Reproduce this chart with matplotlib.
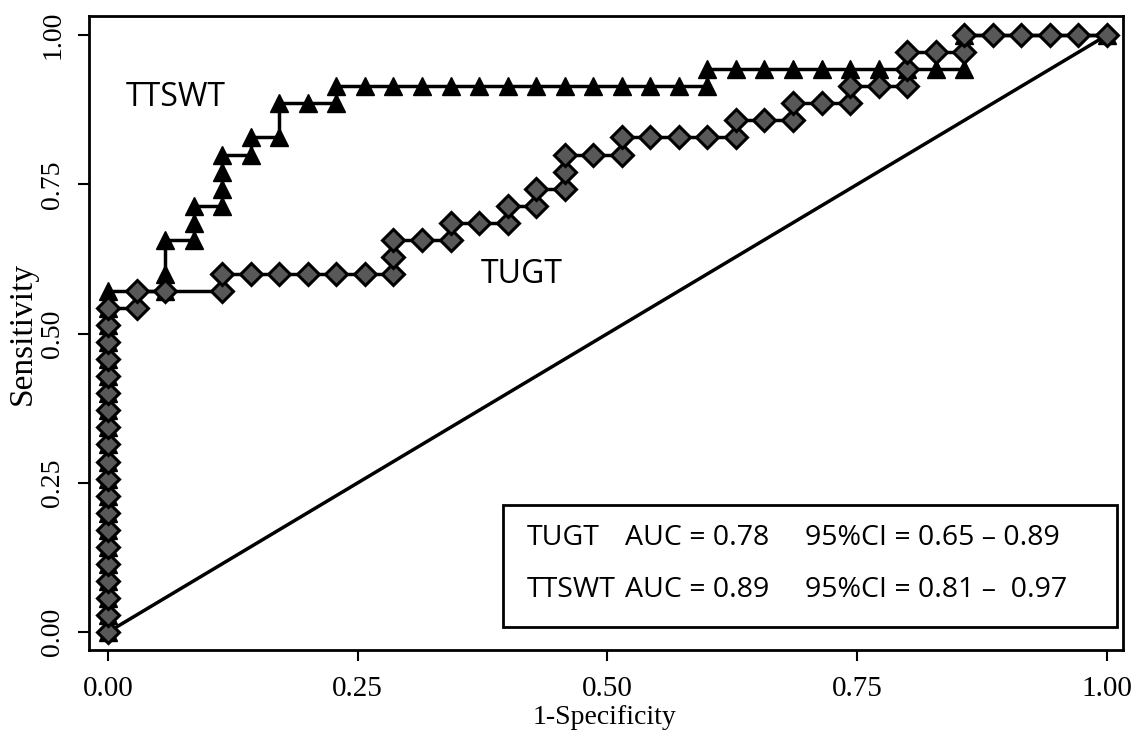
import matplotlib.pyplot as plt
from matplotlib.patches import Rectangle

# 35 cases without and 35 with the outcome: the ROC steps are read as counts of cases
n_neg = 35
n_pos = 35

# TTSWT curve (triangles): false-positive count, true-positive count
ttswt_fp = [0, 0, 0, 0, 0, 0, 0, 0, 0, 0, 0, 0, 0, 0, 0, 0, 0, 0, 0, 0, 0,
            2, 2, 2, 3, 3, 3, 4, 4, 4, 4, 5, 5, 6, 6, 7, 8, 8, 9,
            10, 11, 12, 13, 14, 15, 16, 17, 18, 19, 20, 21, 21,
            22, 23, 24, 25, 26, 27, 28, 29, 30, 30, 35]
ttswt_tp = [0, 1, 2, 3, 4, 5, 6, 7, 8, 9, 10, 11, 12, 13, 14, 15, 16, 17, 18, 19, 20,
            20, 21, 23, 23, 24, 25, 25, 26, 27, 28, 28, 29, 29, 31, 31, 31, 32, 32,
            32, 32, 32, 32, 32, 32, 32, 32, 32, 32, 32, 32, 33,
            33, 33, 33, 33, 33, 33, 33, 33, 33, 35, 35]

# TUGT curve (diamonds)
tugt_fp = [0, 0, 0, 0, 0, 0, 0, 0, 0, 0, 0, 0, 0, 0, 0, 0, 0, 0, 0, 0,
           1, 1, 2, 4, 4, 5, 6, 7, 8, 9, 10, 10, 10, 11, 12, 12, 13, 14, 14,
           15, 15, 16, 16, 16, 17, 18, 18, 19, 20, 21, 22, 22, 23, 24, 24,
           25, 26, 26, 27, 28, 28, 28, 29, 30, 30, 31, 32, 33, 34, 35]
tugt_tp = [0, 1, 2, 3, 4, 5, 6, 7, 8, 9, 10, 11, 12, 13, 14, 15, 16, 17, 18, 19,
           19, 20, 20, 20, 21, 21, 21, 21, 21, 21, 21, 22, 23, 23, 23, 24, 24, 24, 25,
           25, 26, 26, 27, 28, 28, 28, 29, 29, 29, 29, 29, 30, 30, 30, 31,
           31, 31, 32, 32, 32, 33, 34, 34, 34, 35, 35, 35, 35, 35, 35]

tests = ['TUGT', 'TTSWT']
auc = ['0.78', '0.89']
ci_text = ['0.65 \u2013 0.89', '0.81 \u2013  0.97']

fig = plt.figure(figsize=(11.42, 7.42), dpi=100)
ax = fig.add_axes([89 / 1142, 1 - 650 / 742, 1034 / 1142, 634 / 742])

ax.plot([0, 1], [0, 1], color='black', lw=2.5, zorder=1)

ax.plot([v / n_neg for v in ttswt_fp], [v / n_pos for v in ttswt_tp],
        color='black', lw=2.5, marker='^', ms=13, mfc='black', mec='black', zorder=2)
ax.plot([v / n_neg for v in tugt_fp], [v / n_pos for v in tugt_tp],
        color='black', lw=2.5, marker='D', ms=11.5, mfc='#585858', mec='black',
        mew=2.2, zorder=3)

ax.set_xlim(-0.019, 1.016)
ax.set_ylim(-0.030, 1.032)

ticks = [0, 0.25, 0.5, 0.75, 1]
ax.set_xticks(ticks)
ax.set_yticks(ticks)
ax.set_xticklabels(['%.2f' % t for t in ticks], family='Liberation Serif', fontsize=21)
ax.set_yticklabels(['%.2f' % t for t in ticks], family='Liberation Serif', fontsize=20,
                   rotation=90, va='center')
ax.tick_params(length=8, width=1.5, direction='out')
ax.tick_params(axis='x', pad=11)
ax.tick_params(axis='y', pad=9)
for s in ax.spines.values():
    s.set_linewidth(2)

ax.set_xlabel('1-Specificity', family='Liberation Serif', fontsize=20, va='center')
ax.xaxis.set_label_coords(0.499, -0.106)
ax.set_ylabel('Sensitivity', family='Liberation Serif', fontsize=24, va='center')
ax.yaxis.set_label_coords(-0.064, 0.5)

ax.text(0.068, 0.896, 'TTSWT', family='Open Sans', fontsize=23, ha='center', va='center')
ax.text(0.414, 0.599, 'TUGT', family='Open Sans', fontsize=23, ha='center', va='center')

# AUC box
ax.add_patch(Rectangle((0.4004, 0.0363), 0.5938, 0.1925, transform=ax.transAxes,
                       fill=False, lw=2, ec='black', zorder=4))
for i, name in enumerate(tests):
    y = 0.1767 - i * 0.0820
    ax.text(0.4236, y, name, transform=ax.transAxes, family='Open Sans',
            fontsize=20.5, va='center')
    ax.text(0.5184, y, 'AUC = ' + auc[i], transform=ax.transAxes, family='Open Sans',
            fontsize=20.5, va='center')
    ax.text(0.6925, y, '95%CI = ' + ci_text[i], transform=ax.transAxes,
            family='Open Sans', fontsize=20.5, va='center')

fig.savefig('out.png', dpi=100, facecolor='white')
